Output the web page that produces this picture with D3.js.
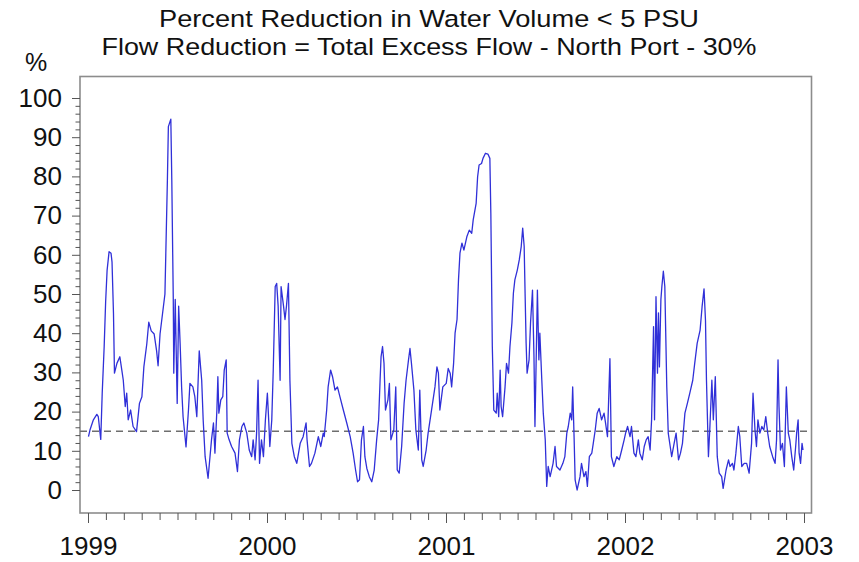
<!DOCTYPE html>
<html>
<head>
<meta charset="utf-8">
<script src="https://cdn.jsdelivr.net/npm/d3@7"></script>
<style>
  html, body { margin: 0; padding: 0; background: #fff; }
  svg { display: block; font-family: "Liberation Sans", Arial, sans-serif; }
</style>
</head>
<body>
<svg id="chart" width="859" height="562"></svg>
<script>
// ---- data ----
const titleLines = ["Percent Reduction in Water Volume < 5 PSU",
                    "Flow Reduction = Total Excess Flow - North Port - 30%"];
const yUnitLabel = "%";
const startYear = 1999;
const endYear = 2003;
const yearTickLabels = [1999, 2000, 2001, 2002, 2003];
const yTickLabels = [0, 10, 20, 30, 40, 50, 60, 70, 80, 90, 100];
const thresholdValue = 15;
// [days since 1999-01-01, percent reduction]
const series = [
[1,13.6],[4,15.3],[11,17.9],[18,19.3],[21,18.7],[26,12.9],[29,24.7],[33,36.6],[36,48],[39,56.1],
[43,60.8],[47,60.4],[49,58.2],[52,45],[54,29.8],[59,32.3],[65,34],[69,30.6],[72,28],[76,21.3],
[79,24.7],[82,17.9],[87,20.4],[92,16.2],[99,14.9],[105,22.1],[110,23.8],[114,31.4],[120,37.3],[124,42.8],
[129,40.6],[135,39.8],[140,35.5],[143,31.7],[147,39.8],[152,44.9],[157,50],[162,79],[164,92.7],[169,94.6],
[171,79],[174,48.6],[175,29.8],[178,48.6],[182,22.1],[185,46.9],[188,37.3],[191,26.3],[194,18.7],[200,11],
[205,20.4],[208,27.2],[214,26.3],[218,23.8],[222,18.7],[227,35.5],[232,28],[235,17.9],
[239,8.5],[245,3],[252,12.8],[256,17.1],[259,9.4],[263,20.4],[265,28.9],[267,19.6],[271,23],[275,23.8],
[278,30.6],[282,33.2],[284,14.5],[288,12.8],[293,11.1],[300,9.4],[305,4.7],[309,12.8],[314,16.2],[318,17.1],
[324,14.5],[329,10.2],[334,8.5],[337,12.8],[341,7.7],[344,14.5],[347,28],[350,6.8],[354,12.8],[358,8.5],
[362,17.9],[366,24.7],[369,17.1],[371,11.1],[375,17.9],[378,30.6],[382,51.9],[385,52.7],[388,46.9],[392,28],
[394,51.9],[399,46.9],[402,43.5],[405,46.9],[409,52.7],[412,28],[416,11.9],[421,8.5],[426,6.8],[433,11.9],
[439,13.6],[445,17.1],[447,12.8],[452,6],[456,6.8],[463,9.4],[470,13.6],[475,11.1],[480,14.5],
[482,13.6],[487,20.4],[490,26.3],[495,30.6],[499,28.9],[504,25.5],[509,26.3],[514,23.8],[521,20.4],[528,17.1],
[535,13.6],[541,9.4],[546,5.1],[550,2.1],[554,2.6],[558,12.8],[562,16.2],[565,8.5],[569,5.5],[574,3.4],
[579,2.1],[584,5.1],[589,12.8],[593,17.9],[596,28],[598,34],[601,36.6],[604,32.3],[607,20.4],[612,23],
[615,27.2],[618,12.8],[622,14.5],[624,15.3],[628,26.3],[631,5.1],[635,4.3],[640,11.1],[645,22.1],[649,28],
[654,33.2],[657,36.1],[660,32.3],[665,25.5],[669,15.3],[674,10.2],[677,25.5],[681,7.7],[684,6],[690,10.2],
[694,14.5],[701,20.4],[708,26.3],[712,31.4],[715,29.8],[718,20.4],[724,26.3],[731,27.2],[735,31],[739,29.8],
[742,26.3],[746,32.3],[749,40],[753,43.5],[756,53.6],[759,60.4],[763,63],[767,61.2],[773,64.6],[778,66.3],
[783,65.5],[786,68.9],[792,73.1],[795,79.9],[798,82.9],[803,83.3],[806,84.6],[811,85.9],[816,85.7],[820,84.6],
[822,70.6],[825,36.6],[828,20.4],[833,19.6],[835,24.7],[838,18.7],[841,30.6],[843,21.3],[846,18.7],[851,26.3],
[854,32.3],[858,29.8],[861,36.6],[865,42.6],[868,50.2],[871,53.6],[876,56.1],[880,58.7],[884,62.1],[887,66.8],
[890,62.1],[892,49.4],[894,37.4],[896,29.8],[900,33.2],[903,42.6],[907,51],[910,34],[912,16.2],[915,36.6],
[917,51],[920,33.2],[922,40],[926,28],[929,19.6],[933,12.8],[936,0.9],[939,6],[943,3.4],[949,6.8],
[953,11.1],[956,6],[963,5.1],[969,6.8],[973,8.5],[977,14.5],[980,16.2],[984,19.6],[987,17.9],[989,26.3],
[992,12.8],[994,2.6],[998,0],[1004,3.4],[1007,6.8],[1012,3.4],[1016,4.7],[1019,0.9],[1023,8.5],[1028,9.4],
[1031,11.9],[1035,15.3],[1039,19.6],[1043,20.8],[1048,17.9],[1053,19.6],[1056,17.1],[1060,13.6],[1065,33.5],[1068,8.5],
[1073,6],[1079,8.5],[1084,7.7],[1089,10.2],[1094,12.8],[1097,14.5],[1101,16.2],[1106,13.6],[1109,16.2],[1114,9.4],
[1118,8.5],[1123,12.8],[1126,9.4],[1131,7.7],[1135,11.1],[1139,12.8],[1143,13.6],[1147,10.2],[1150,17.9],[1154,41.7],
[1156,17.9],[1159,49.3],[1162,29.8],[1164,45.2],[1166,31.4],[1169,48.6],[1171,51.9],[1174,55.8],[1177,51.9],[1181,26.3],
[1184,14.5],[1188,11.1],[1191,8.5],[1196,11.9],[1200,14.5],[1205,7.7],[1209,9.4],[1213,11.9],[1218,19.6],[1223,22.1],
[1228,24.7],[1234,28],[1238,32.3],[1243,37.4],[1249,40.8],[1253,46.7],[1257,51.3],[1260,43.2],[1262,28],[1266,8.5],
[1269,16.2],[1273,28],[1276,17.9],[1280,28.9],[1284,8.5],[1288,4.3],[1293,3.4],[1296,0.4],[1302,5.1],[1307,7.7],
[1310,6],[1315,6.8],[1318,5.1],[1322,9.4],[1327,16.2],[1330,13.6],[1334,6],[1339,6.8],[1344,6.8],[1349,4.3],
[1354,11.9],[1357,24.7],[1361,15.3],[1364,11.1],[1367,17.9],[1371,14.5],[1375,16.2],[1379,15.3],[1383,18.7],[1387,14.5],
[1391,11.1],[1397,8.5],[1402,6.8],[1405,12.8],[1408,33.2],[1410,21.3],[1413,10.2],[1417,11.9],[1421,6],[1425,26.3],
[1429,14.5],[1432,12.8],[1436,8.5],[1440,5.1],[1444,11.1],[1446,14.5],[1449,17.9],[1451,9.4],[1454,6.8],[1457,11.9],
[1459,10.2]
];

// ---- layout ----
const svg = d3.select("#chart");
const frame = { left: 80, right: 811.5, top: 76.5, bottom: 513 };
const x = d3.scaleLinear().domain([startYear, endYear]).range([88, 804]);
const y = d3.scaleLinear().domain([0, 100]).range([490, 98]);
const toYear = d => startYear + d / 365.25;

// frame
svg.append("rect")
  .attr("x", frame.left).attr("y", frame.top)
  .attr("width", frame.right - frame.left).attr("height", frame.bottom - frame.top)
  .attr("fill", "none").attr("stroke", "#8c8c8c").attr("stroke-width", 1.6);

// threshold dashed line
svg.append("line")
  .attr("x1", frame.left).attr("x2", frame.right)
  .attr("y1", y(thresholdValue)).attr("y2", y(thresholdValue))
  .attr("stroke", "#6e6e6e").attr("stroke-width", 1.5).attr("stroke-dasharray", "7,5");

// series line
const line = d3.line().x(d => x(toYear(d[0]))).y(d => y(d[1]));
svg.append("path").datum(series)
  .attr("d", line).attr("fill", "none")
  .attr("stroke", "#3030d8").attr("stroke-width", 1.3).attr("stroke-linejoin", "round");

// y axis: minor ticks every 2, major every 10
const yMinor = d3.range(0, 101, 2).filter(v => v % 10 !== 0);
const yAxisMinor = d3.axisLeft(y).tickValues(yMinor).tickSize(4.5).tickFormat("");
svg.append("g").attr("transform", `translate(${frame.left},0)`).call(yAxisMinor)
  .call(g => g.select(".domain").remove())
  .call(g => g.selectAll("line").attr("stroke", "#555"));
const yAxisMajor = d3.axisLeft(y).tickValues(yTickLabels).tickSize(8).tickPadding(10)
  .tickFormat(d3.format("d"));
svg.append("g").attr("transform", `translate(${frame.left},0)`).call(yAxisMajor)
  .call(g => g.select(".domain").remove())
  .call(g => g.selectAll("line").attr("stroke", "#555"))
  .call(g => g.selectAll("text").attr("font-size", 26)
      .attr("font-family", "Liberation Sans, Arial, sans-serif").attr("fill", "#111"));

// x axis: ticks every 0.1 year, labels at years
const xMinor = d3.range(0, 41).map(i => startYear + i / 10).filter((v, i) => i % 10 !== 0);
const xAxisMinor = d3.axisBottom(x).tickValues(xMinor).tickSize(7).tickFormat("");
svg.append("g").attr("transform", `translate(0,${frame.bottom})`).call(xAxisMinor)
  .call(g => g.select(".domain").remove())
  .call(g => g.selectAll("line").attr("stroke", "#555"));
const xAxisMajor = d3.axisBottom(x).tickValues(yearTickLabels).tickSize(10).tickPadding(14)
  .tickFormat(d3.format("d"));
svg.append("g").attr("transform", `translate(0,${frame.bottom})`).call(xAxisMajor)
  .call(g => g.select(".domain").remove())
  .call(g => g.selectAll("line").attr("stroke", "#555"))
  .call(g => g.selectAll("text").attr("font-size", 26)
      .attr("font-family", "Liberation Sans, Arial, sans-serif").attr("fill", "#111"));

// titles
const titleWidths = [540, 655];
svg.selectAll("text.title").data(titleLines).enter().append("text")
  .attr("class", "title")
  .attr("x", 429).attr("y", (d, i) => 27 + i * 27.5)
  .attr("text-anchor", "middle").attr("font-size", 24.5).attr("fill", "#111")
  .attr("textLength", (d, i) => titleWidths[i]).attr("lengthAdjust", "spacingAndGlyphs")
  .text(d => d);

svg.append("text").attr("x", 36).attr("y", 71).attr("text-anchor", "middle")
  .attr("font-size", 25).attr("fill", "#111").text(yUnitLabel);
</script>
</body>
</html>
